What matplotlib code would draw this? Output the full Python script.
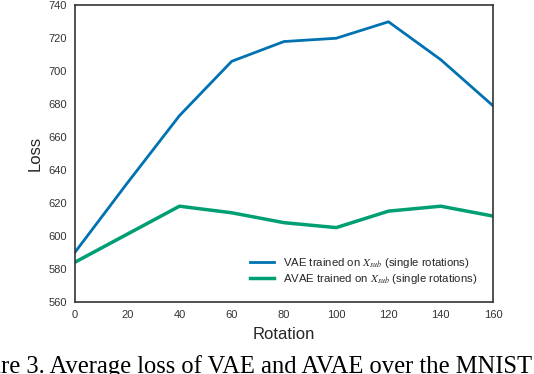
import matplotlib
matplotlib.use('Agg')
import matplotlib.pyplot as plt

# Data
rotation = [0, 20, 40, 60, 80, 100, 120, 140, 160]
vae_loss = [590, 632, 673, 706, 718, 720, 730, 707, 679]
avae_loss = [584, 601, 618, 614, 608, 605, 615, 618, 612]

plt.rcParams['font.family'] = ['Liberation Sans', 'DejaVu Sans']
plt.rcParams['mathtext.fontset'] = 'stix'

fig = plt.figure(figsize=(5.34, 3.74), dpi=100)
ax = fig.add_axes([0.1404, 0.1933, 0.7828, 0.7925])

ax.plot(rotation, vae_loss, color='#0072b2', lw=2,
        label='VAE trained on $X_{sub}$ (single rotations)')
ax.plot(rotation, avae_loss, color='#009e73', lw=2.5,
        label='AVAE trained on $X_{sub}$ (single rotations)')

ax.set_xlim(0, 160)
ax.set_ylim(560, 740)
ax.set_xticks(range(0, 161, 20))
ax.set_yticks(range(560, 741, 20))
ax.tick_params(length=0, labelsize=8, colors='#333333', pad=6)
for s in ax.spines.values():
    s.set_color('#333333')
    s.set_linewidth(1.2)

ax.set_xlabel('Rotation', fontsize=12, color='#262626', labelpad=5)
ax.set_ylabel('Loss', fontsize=12, color='#262626', labelpad=4)

ax.legend(loc='lower right', frameon=False, fontsize=8.2, handlelength=2.1,
          borderaxespad=1.0, labelspacing=0.15, labelcolor='#262626')

fig.text(-0.082, 0.004, 'Figure 3. Average loss of VAE and AVAE over the MNIST dataset',
         fontsize=17.7, family='Liberation Serif', ha='left', va='baseline')

fig.savefig('out.png', dpi=100)
